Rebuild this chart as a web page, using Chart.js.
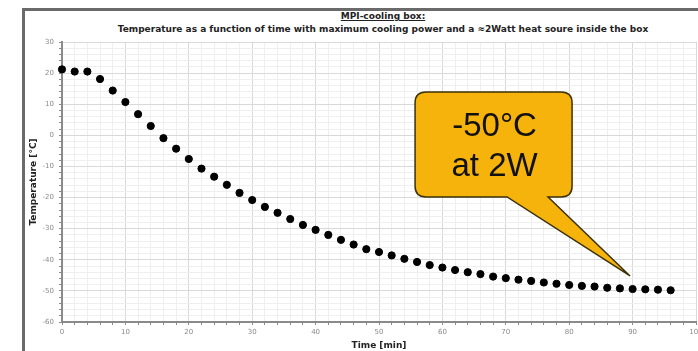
<!DOCTYPE html>
<html>
<head>
<meta charset="utf-8">
<script src="https://cdn.jsdelivr.net/npm/chart.js@4.4.1/dist/chart.umd.min.js"></script>
<style>
  html, body { margin: 0; padding: 0; background: #fff; overflow: hidden; }
  body { width: 698px; height: 351px; position: relative; }
  #frame {
    position: absolute; left: 22px; top: 8px; width: 720px; height: 400px;
    border: 3px solid #6a6a6a; box-sizing: border-box;
  }
  #wrap { position: absolute; left: 0; top: 0; width: 740px; height: 351px; }
  .ttl {
    position: absolute; left: 183px; width: 400px; text-align: center;
    font: bold 9px "DejaVu Sans", sans-serif; color: #222; white-space: nowrap;
  }
  #t1 { top: 11px; text-decoration: underline; }
  #t2 { top: 24px; left: 83px; width: 600px; }
</style>
</head>
<body>
<div id="frame"></div>
<div class="ttl" id="t1">MPI-cooling box:</div>
<div class="ttl" id="t2">Temperature as a function of time with maximum cooling power and a ≈2Watt heat soure inside the box</div>
<div id="wrap"><canvas id="chart" width="740" height="351"></canvas></div>
<script>
const timeMin = [0, 2, 4, 6, 8, 10, 12, 14, 16, 18, 20, 22, 24, 26, 28, 30, 32, 34, 36, 38, 40, 42, 44, 46, 48,
    50, 52, 54, 56, 58, 60, 62, 64, 66, 68, 70, 72, 74, 76, 78, 80, 82, 84, 86, 88, 90, 92, 94, 96];
const tempC = [21.2, 20.5, 20.5, 18.1, 14.4, 10.7, 6.8, 3.0, -0.9, -4.3, -7.6, -10.7, -13.3, -15.9, -18.5,
    -20.8, -23.0, -24.9, -26.9, -28.8, -30.4, -32.0, -33.6, -35.1, -36.6, -37.5, -38.6, -39.7, -40.7, -41.7,
    -42.5, -43.3, -44.0, -44.6, -45.4, -45.9, -46.4, -46.8, -47.3, -47.7, -48.1, -48.4, -48.6, -49.0, -49.2,
    -49.4, -49.5, -49.6, -49.8];
const xRange = [0, 100];
const yRange = [-60, 30];
const calloutLines = ["-50°C", "at 2W"];
const calloutTip = [89.6, -45.2];

const points = timeMin.map((t, i) => ({ x: t, y: tempC[i] }));

function isMajor(v) {
    return Math.round(v) % 10 === 0;
}

function gridColor(ctx) {
    return isMajor(ctx.tick.value) ? "#d9d9d9" : "#efefef";
}

// speech bubble pointing at the end of the curve
const calloutPlugin = {
    id: "callout",
    afterDatasetsDraw(chart) {
        const c = chart.ctx;
        const tx = chart.scales.x.getPixelForValue(calloutTip[0]);
        const ty = chart.scales.y.getPixelForValue(calloutTip[1]);
        const L = tx - 215, R = tx - 58, T = ty - 184, B = ty - 79, r = 11;
        const b1 = tx - 123, b2 = tx - 82;
        c.save();
        c.beginPath();
        c.moveTo(L + r, T);
        c.lineTo(R - r, T);
        c.quadraticCurveTo(R, T, R, T + r);
        c.lineTo(R, B - r);
        c.quadraticCurveTo(R, B, R - r, B);
        c.lineTo(b2, B);
        c.lineTo(tx, ty);
        c.lineTo(b1, B);
        c.lineTo(L + r, B);
        c.quadraticCurveTo(L, B, L, B - r);
        c.lineTo(L, T + r);
        c.quadraticCurveTo(L, T, L + r, T);
        c.closePath();
        c.fillStyle = "#f6b30c";
        c.fill();
        c.lineWidth = 1.5;
        c.strokeStyle = "#3b3208";
        c.stroke();
        c.fillStyle = "#111";
        c.font = "33px 'Liberation Sans', Arial, sans-serif";
        c.textAlign = "center";
        c.textBaseline = "middle";
        const cx = (L + R) / 2 + 1;
        c.fillText(calloutLines[0], cx, T + 35);
        c.fillText(calloutLines[1], cx, T + 75);
        c.restore();
    }
};

new Chart(document.getElementById("chart"), {
    type: "scatter",
    data: {
        datasets: [{
            data: points,
            backgroundColor: "#000",
            borderColor: "#000",
            pointRadius: 3.6,
            pointHoverRadius: 3.6,
            showLine: false,
            clip: false
        }]
    },
    options: {
        responsive: false,
        animation: false,
        events: [],
        layout: { padding: { left: 22, top: 42, right: 44, bottom: 0 } },
        plugins: {
            legend: { display: false },
            tooltip: { enabled: false }
        },
        scales: {
            x: {
                type: "linear",
                min: xRange[0],
                max: xRange[1],
                afterFit(scale) { scale.height = 29; },
                border: { color: "#8a8a8a", width: 2 },
                grid: { color: gridColor, tickColor: "#8a8a8a", tickLength: 3, drawTicks: true },
                ticks: {
                    stepSize: 2,
                    autoSkip: false,
                    maxRotation: 0,
                    padding: 3,
                    color: "#8a8a8a",
                    font: { family: "DejaVu Sans", size: 7 },
                    callback: v => isMajor(v) ? String(Math.round(v)) : ""
                },
                title: {
                    display: true,
                    text: "Time [min]",
                    color: "#222",
                    padding: { top: 0, bottom: 0 },
                    font: { family: "DejaVu Sans", size: 9, weight: "bold" }
                }
            },
            y: {
                type: "linear",
                min: yRange[0],
                max: yRange[1],
                afterFit(scale) { scale.width = 40; },
                border: { color: "#8a8a8a", width: 2 },
                grid: { color: gridColor, tickColor: "#8a8a8a", tickLength: 3, drawTicks: true },
                ticks: {
                    stepSize: 2,
                    autoSkip: false,
                    padding: 5,
                    color: "#8a8a8a",
                    font: { family: "DejaVu Sans", size: 7 },
                    callback: v => isMajor(v) ? String(Math.round(v)) : ""
                },
                title: {
                    display: true,
                    text: "Temperature [°C]",
                    color: "#222",
                    padding: { top: 6, bottom: 0 },
                    font: { family: "DejaVu Sans", size: 9, weight: "bold" }
                }
            }
        }
    },
    plugins: [calloutPlugin]
});
</script>
</body>
</html>
